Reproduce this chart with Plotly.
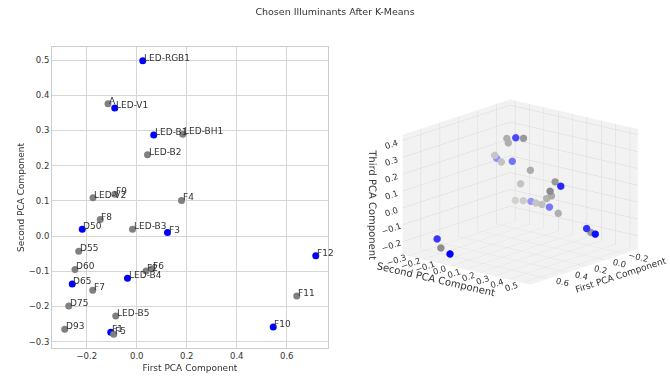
import numpy as np
import plotly.graph_objects as go

# ---------------- data ----------------
names = ["A", "D50", "D55", "D60", "D65", "D75", "D93",
         "F1", "F2", "F3", "F4", "F5", "F6", "F7", "F8", "F9", "F10", "F11", "F12",
         "LED-B1", "LED-B2", "LED-B3", "LED-B4", "LED-B5", "LED-BH1", "LED-RGB1",
         "LED-V1", "LED-V2"]
pc1 = [-0.115, -0.218, -0.232, -0.247, -0.258, -0.272, -0.288,
       -0.104, 0.037, 0.123, 0.179, -0.092, 0.061, -0.176, -0.146, -0.088, 0.546, 0.640, 0.716,
       0.068, 0.043, -0.017, -0.037, -0.084, 0.184, 0.024, -0.088, -0.175]
pc2 = [0.376, 0.019, -0.043, -0.095, -0.136, -0.199, -0.265,
       -0.273, -0.099, 0.010, 0.101, -0.279, -0.093, -0.154, 0.047, 0.119, -0.258, -0.170, -0.056,
       0.287, 0.231, 0.019, -0.120, -0.227, 0.289, 0.498, 0.364, 0.109]
pc3 = [-0.173, -0.112, -0.111, -0.115, -0.116, -0.127, -0.141,
       0.141, 0.293, 0.361, 0.386, 0.160, 0.325, 0.000, -0.042, -0.001, -0.214, -0.233, -0.232,
       0.118, 0.128, 0.144, 0.166, 0.132, 0.110, -0.133, -0.147, -0.123]
chosen = [0, 1, 0, 0, 1, 0, 0,
          1, 0, 1, 0, 0, 0, 0, 0, 0, 1, 0, 1,
          1, 0, 0, 1, 0, 0, 1, 1, 0]

x_ticks2d = [-0.2, 0.0, 0.2, 0.4, 0.6]
x_ticklabels2d = ["\u22120.2", "0.0", "0.2", "0.4", "0.6"]
y_ticks2d = [-0.3, -0.2, -0.1, 0.0, 0.1, 0.2, 0.3, 0.4, 0.5]
y_ticklabels2d = ["\u22120.3", "\u22120.2", "\u22120.1", "0.0", "0.1", "0.2", "0.3", "0.4", "0.5"]
x_ticks3d = [-0.2, 0.0, 0.2, 0.4, 0.6]
x_ticklabels3d = ["\u22120.2", "0.0", "0.2", "0.4", "0.6"]
y_ticks3d = [-0.3, -0.2, -0.1, 0.0, 0.1, 0.2, 0.3, 0.4, 0.5]
y_ticklabels3d = ["\u22120.3", "\u22120.2", "\u22120.1", "0.0", "0.1", "0.2", "0.3", "0.4", "0.5"]
z_ticks3d = [-0.2, -0.1, 0.0, 0.1, 0.2, 0.3, 0.4]
z_ticklabels3d = ["\u22120.2", "\u22120.1", "0.0", "0.1", "0.2", "0.3", "0.4"]

title_text = "Chosen Illuminants After K-Means"

# ---------------- styling ----------------
FONT = "DejaVu Sans"
TXT = "#333333"
GRID = "#d6d6d6"

colors2d = ["#0000ff" if c else "#808080" for c in chosen]

# depth shading for the 3D view (like matplotlib depthshade), blended on white
X3R = [-0.34, 0.79]
Y3R = [-0.335, 0.555]
Z3R = [-0.28, 0.434]
AZ = np.deg2rad(40)
EL = np.deg2rad(16)
a1 = np.array(pc1)
a2 = np.array(pc2)
u = (a1 - X3R[0]) / (X3R[1] - X3R[0])
v = (a2 - Y3R[0]) / (Y3R[1] - Y3R[0])
near = u * np.cos(AZ) + v * np.sin(AZ)
nn = (near - near.min()) / (near.max() - near.min())
alpha = 0.3 + 0.7 * nn
colors3d = []
for c, a in zip(chosen, alpha):
    base = (0, 0, 255) if c else (128, 128, 128)
    rgb = [round(a * b + (1 - a) * 245) for b in base]
    colors3d.append("rgb(%d,%d,%d)" % tuple(rgb))

fig = go.Figure()
fig.add_trace(go.Scatter(
    x=pc1, y=pc2, mode="markers", text=names, hoverinfo="text",
    marker=dict(color=colors2d, size=7, line=dict(width=0)),
    xaxis="x", yaxis="y", showlegend=False))

fig.add_trace(go.Scatter3d(
    x=pc1, y=pc2, z=pc3, mode="markers", text=names, hoverinfo="text",
    marker=dict(color=colors3d, size=4.3, line=dict(width=0)),
    scene="scene", showlegend=False))

annotations = []
for n, xv, yv in zip(names, pc1, pc2):
    annotations.append(dict(
        x=xv, y=yv, xref="x", yref="y", text=n, showarrow=False,
        xanchor="left", yanchor="bottom", xshift=-1, yshift=-4,
        font=dict(family=FONT, size=9, color=TXT)))

axis3 = dict(showbackground=True, backgroundcolor="#f2f2f2", gridcolor="#d9d9d9",
             gridwidth=1, zeroline=False, showspikes=False, showline=False,
             tickfont=dict(family=FONT, size=10, color=TXT))
title3font = dict(family=FONT, size=10, color=TXT)
title3font_x = dict(family=FONT, size=9, color=TXT)

# camera: view direction + a sideways shift so the box sits right of the scene centre
R = 2.0
K = 0.12
shift = dict(x=K * np.sin(AZ), y=-K * np.cos(AZ), z=0.0)
eye = dict(x=R * np.cos(EL) * np.cos(AZ) + shift["x"],
           y=R * np.cos(EL) * np.sin(AZ) + shift["y"],
           z=R * np.sin(EL))
S = 1.12

fig.update_layout(
    width=670, height=379, autosize=False,
    margin=dict(l=0, r=0, t=0, b=0),
    paper_bgcolor="white", plot_bgcolor="white",
    font=dict(family=FONT, size=9, color=TXT),
    title=dict(text=title_text, x=0.5, xanchor="center", y=1 - 12 / 379, yanchor="middle",
               font=dict(family=FONT, size=9.5, color=TXT)),
    xaxis=dict(domain=[52 / 670, 328 / 670], range=[-0.339, 0.765],
               tickvals=x_ticks2d, ticktext=x_ticklabels2d,
               showgrid=True, gridcolor=GRID, gridwidth=1.2, zeroline=False,
               showline=True, linecolor="#cccccc", linewidth=1, mirror=True, ticks="",
               tickfont=dict(family=FONT, size=8.5, color=TXT),
               title=dict(text="First PCA Component", font=dict(family=FONT, size=9, color=TXT), standoff=4)),
    yaxis=dict(domain=[31 / 379, 332 / 379], range=[-0.318, 0.537],
               tickvals=y_ticks2d, ticktext=y_ticklabels2d,
               showgrid=True, gridcolor=GRID, gridwidth=1.2, zeroline=False,
               showline=True, linecolor="#cccccc", linewidth=1, mirror=True, ticks="",
               tickfont=dict(family=FONT, size=8.5, color=TXT),
               title=dict(text="Second PCA Component", font=dict(family=FONT, size=9, color=TXT), standoff=2)),
    scene=dict(
        domain=dict(x=[0.5, 1.0], y=[0.1, 0.886]),
        xaxis=dict(axis3, range=X3R, tickvals=x_ticks3d, ticktext=x_ticklabels3d,
                   title=dict(text="First PCA Component", font=title3font_x)),
        yaxis=dict(axis3, range=Y3R, tickvals=y_ticks3d, ticktext=y_ticklabels3d,
                   title=dict(text="Second PCA Component", font=title3font)),
        zaxis=dict(axis3, range=Z3R, tickvals=z_ticks3d, ticktext=z_ticklabels3d,
                   title=dict(text="Third PCA Component", font=title3font)),
        aspectmode="manual", aspectratio=dict(x=S, y=S, z=0.75 * S),
        camera=dict(eye=eye, center=shift,
                    up=dict(x=0, y=0, z=1), projection=dict(type="orthographic")),
    ),
    annotations=annotations,
)

fig.write_html("out.html", config={"displayModeBar": False},
               post_script="document.body.style.margin='0px';")
